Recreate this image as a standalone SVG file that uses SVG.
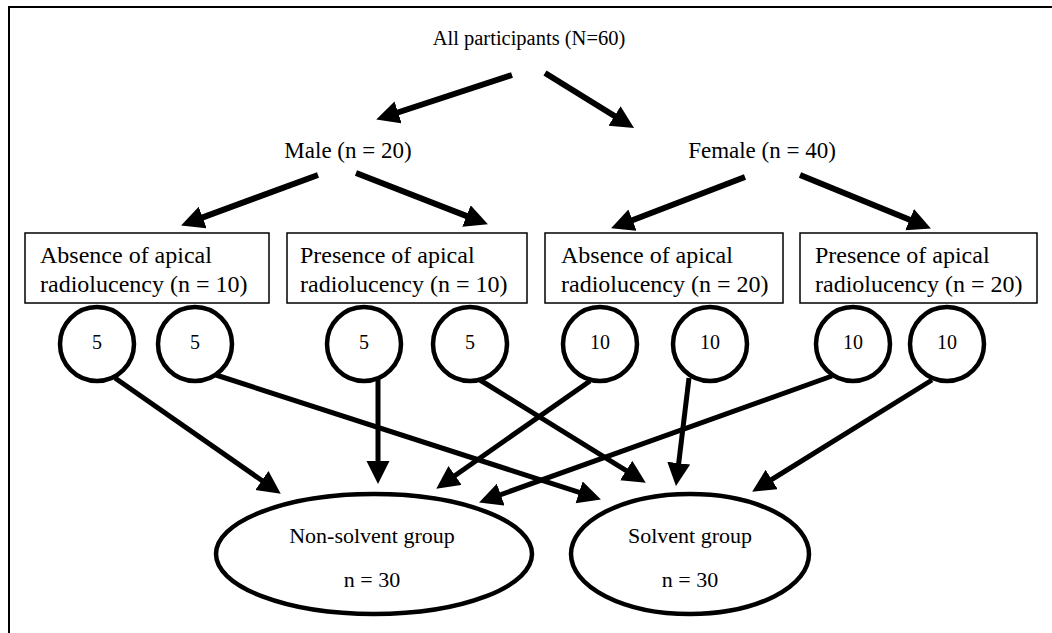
<svg xmlns="http://www.w3.org/2000/svg" width="1052" height="633" viewBox="0 0 1052 633">
<style>
text{font-family:"Liberation Serif","Times New Roman",serif;fill:#000}
.t20{font-size:20px}
.t21{font-size:20.5px}
.t22{font-size:22px}
.t23{font-size:23px}
.t24{font-size:24px}
.box{fill:#fff;stroke:#000;stroke-width:1.5}
.circ{fill:#fff;stroke:#000;stroke-width:4.5}
.ell{fill:#fff;stroke:#000;stroke-width:4.5}
.arr{stroke:#000;stroke-width:5;fill:none;marker-end:url(#ah)}
.arr6{stroke:#000;stroke-width:6;fill:none;marker-end:url(#ah)}
</style>
<defs>
<marker id="ah" markerUnits="userSpaceOnUse" markerWidth="26" markerHeight="26" refX="10" refY="11.5" orient="auto">
<path d="M0,0 L23,11.5 L0,23 Z" fill="#000"/>
</marker>
</defs>
<rect width="1052" height="633" fill="#fff"/>
<path d="M9,633 V7 H1052" fill="none" stroke="#000" stroke-width="2"/>
<g id="connectors">
<line class="arr6" x1="512" y1="75" x2="388.6" y2="115.5"/>
<line class="arr6" x1="545" y1="73" x2="623.0" y2="121.2"/>
<line class="arr6" x1="318" y1="175" x2="193.3" y2="220.9"/>
<line class="arr6" x1="356" y1="173" x2="475.8" y2="219.6"/>
<line class="arr6" x1="745" y1="177" x2="623.2" y2="223.7"/>
<line class="arr6" x1="800" y1="175" x2="918.9" y2="223.5"/>
<line class="arr" x1="115" y1="378" x2="270.1" y2="486.2"/>
<line class="arr" x1="216" y1="375" x2="588.6" y2="495.4"/>
<line class="arr" x1="378" y1="378" x2="378" y2="471"/>
<line class="arr" x1="480" y1="380" x2="634.7" y2="475.8"/>
<line class="arr" x1="590" y1="381" x2="446.9" y2="481.2"/>
<line class="arr" x1="689" y1="378" x2="677.5" y2="473.1"/>
<line class="arr" x1="832" y1="376" x2="491.3" y2="498"/>
<line class="arr" x1="932" y1="380" x2="763.2" y2="484.8"/>
</g>
<g id="all"><text class="t21" x="529" y="45" text-anchor="middle">All participants (N=60)</text></g>
<g id="male"><text class="t23" x="348" y="158" text-anchor="middle">Male (n = 20)</text></g>
<g id="female"><text class="t23" x="762" y="158" text-anchor="middle">Female (n = 40)</text></g>
<g id="box1"><rect class="box" x="25" y="233" width="244" height="70"/><text class="t24" x="40" y="263">Absence of apical</text><text class="t24" x="40" y="292">radiolucency (n = 10)</text></g>
<g id="box2"><rect class="box" x="287" y="233" width="240" height="70"/><text class="t24" x="300" y="263">Presence of apical</text><text class="t24" x="300" y="292">radiolucency (n = 10)</text></g>
<g id="box3"><rect class="box" x="545" y="233" width="238" height="70"/><text class="t24" x="561" y="263">Absence of apical</text><text class="t24" x="561" y="292">radiolucency (n = 20)</text></g>
<g id="box4"><rect class="box" x="800" y="233" width="237" height="70"/><text class="t24" x="815" y="263">Presence of apical</text><text class="t24" x="815" y="292">radiolucency (n = 20)</text></g>
<g id="c1"><circle class="circ" cx="97" cy="344" r="37"/><text class="t20" x="97" y="349" text-anchor="middle">5</text></g>
<g id="c2"><circle class="circ" cx="195" cy="344" r="37"/><text class="t20" x="195" y="349" text-anchor="middle">5</text></g>
<g id="c3"><circle class="circ" cx="364" cy="344" r="37"/><text class="t20" x="364" y="349" text-anchor="middle">5</text></g>
<g id="c4"><circle class="circ" cx="470" cy="344" r="37"/><text class="t20" x="470" y="349" text-anchor="middle">5</text></g>
<g id="c5"><circle class="circ" cx="600" cy="344" r="37"/><text class="t20" x="600" y="349" text-anchor="middle">10</text></g>
<g id="c6"><circle class="circ" cx="710" cy="344" r="37"/><text class="t20" x="710" y="349" text-anchor="middle">10</text></g>
<g id="c7"><circle class="circ" cx="853" cy="344" r="37"/><text class="t20" x="853" y="349" text-anchor="middle">10</text></g>
<g id="c8"><circle class="circ" cx="947" cy="344" r="37"/><text class="t20" x="947" y="349" text-anchor="middle">10</text></g>
<g id="nonsolvent"><ellipse class="ell" cx="374" cy="554" rx="158" ry="60"/><text class="t22" x="372" y="543" text-anchor="middle">Non-solvent group</text><text class="t22" x="372" y="587" text-anchor="middle">n = 30</text></g>
<g id="solvent"><ellipse class="ell" cx="690" cy="554" rx="119" ry="60"/><text class="t22" x="690" y="543" text-anchor="middle">Solvent group</text><text class="t22" x="690" y="587" text-anchor="middle">n = 30</text></g>
</svg>
